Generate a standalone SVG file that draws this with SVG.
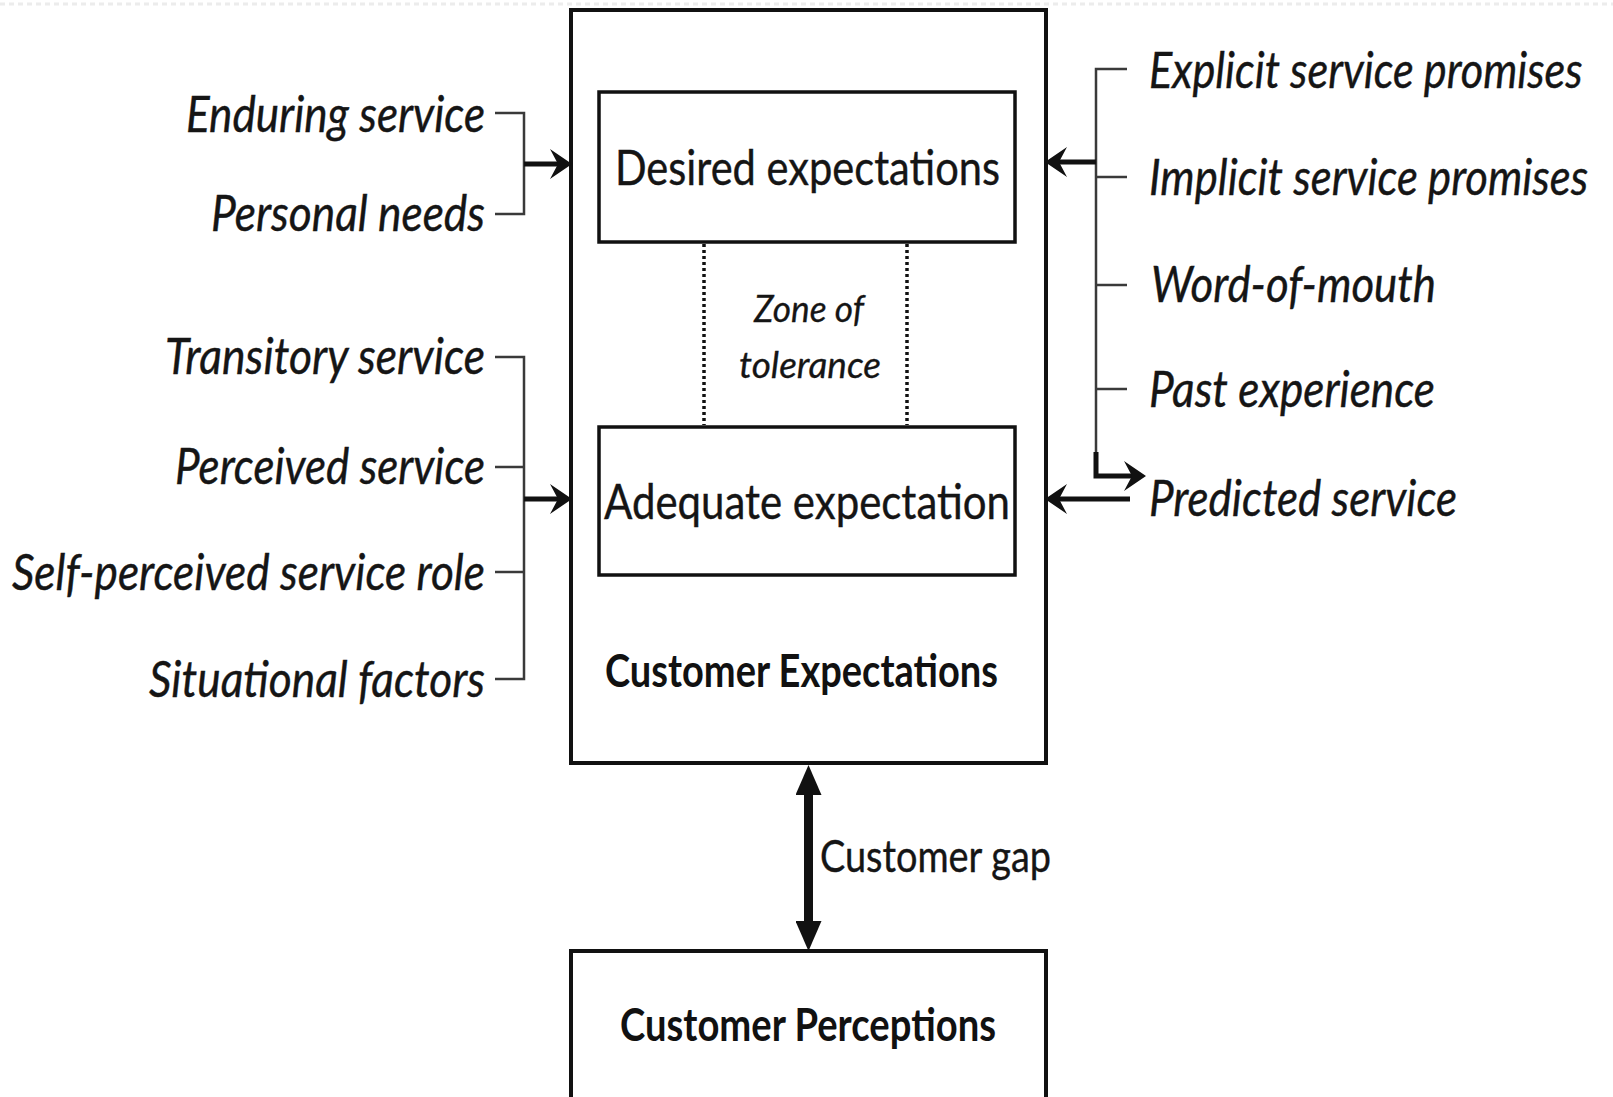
<svg xmlns="http://www.w3.org/2000/svg" width="1613" height="1097" viewBox="0 0 1613 1097">
<style>
  .box { fill: #fff; stroke: #111; stroke-width: 3.5; }
  .outer { fill: #fff; stroke: #111; stroke-width: 4; }
  .lbl { font-family: Lato, "Liberation Sans", sans-serif; font-style: italic; font-size: 50px; fill: #151515; stroke: #151515; stroke-width: 0.4; }
  .main { font-family: Lato, "Liberation Sans", sans-serif; font-size: 49px; fill: #151515; stroke: #151515; stroke-width: 0.4; }
  .zone { font-family: Lato, "Liberation Sans", sans-serif; font-style: italic; font-size: 37px; fill: #151515; stroke: #151515; stroke-width: 0.3; }
  .bold { font-family: Lato, "Liberation Sans", sans-serif; font-weight: bold; font-size: 46px; fill: #111; }
  .gap { font-family: Lato, "Liberation Sans", sans-serif; font-size: 45px; fill: #151515; stroke: #151515; stroke-width: 0.4; }
  .brk { fill: none; stroke: #3a3a3a; stroke-width: 2.5; }
  .arr { fill: none; stroke: #111; stroke-width: 5; }
  .dot { stroke: #111; stroke-width: 3.5; stroke-dasharray: 3 3; }
</style>
<defs>
  <marker id="barb" markerUnits="userSpaceOnUse" viewBox="0 0 22 30" markerWidth="22" markerHeight="30" refX="8" refY="15" orient="auto">
    <path d="M0,0 L22,15 L0,30 L8,15 Z" fill="#111"/>
  </marker>
  <marker id="tri" markerUnits="userSpaceOnUse" viewBox="0 0 30 26" markerWidth="30" markerHeight="26" refX="2" refY="13" orient="auto-start-reverse">
    <path d="M0,0 L30,13 L0,26 Z" fill="#111"/>
  </marker>
</defs>
<rect x="0" y="0" width="1613" height="1097" fill="#fff"/>
<line x1="0" y1="4" x2="1613" y2="4" stroke="#ececec" stroke-width="3" stroke-dasharray="5 4"/>

<g id="customer-expectations">
  <rect class="outer" x="571" y="10" width="475" height="753"/>
  <text class="bold" x="605" y="687" textLength="393" lengthAdjust="spacingAndGlyphs">Customer Expectations</text>
</g>
<g id="desired-expectations">
  <rect class="box" x="599" y="92" width="416" height="150"/>
  <text class="main" x="615" y="185" textLength="385" lengthAdjust="spacingAndGlyphs">Desired expectations</text>
</g>
<g id="zone-of-tolerance">
  <line class="dot" x1="704" y1="244" x2="704" y2="425"/>
  <line class="dot" x1="907" y1="244" x2="907" y2="425"/>
  <text class="zone" x="754" y="322" textLength="110" lengthAdjust="spacingAndGlyphs">Zone of</text>
  <text class="zone" x="739" y="378" textLength="142" lengthAdjust="spacingAndGlyphs">tolerance</text>
</g>
<g id="adequate-expectation">
  <rect class="box" x="599" y="427" width="416" height="148"/>
  <text class="main" x="604" y="519" textLength="406" lengthAdjust="spacingAndGlyphs">Adequate expectation</text>
</g>
<g id="customer-perceptions">
  <rect class="outer" x="571" y="951" width="475" height="200"/>
  <text class="bold" x="620" y="1041" textLength="376" lengthAdjust="spacingAndGlyphs">Customer Perceptions</text>
</g>

<g id="left-factors">
  <text class="lbl" x="186" y="132" textLength="299" lengthAdjust="spacingAndGlyphs">Enduring service</text>
  <text class="lbl" x="211" y="231" textLength="274" lengthAdjust="spacingAndGlyphs">Personal needs</text>
  <text class="lbl" x="165" y="374" textLength="320" lengthAdjust="spacingAndGlyphs">Transitory service</text>
  <text class="lbl" x="175" y="484" textLength="310" lengthAdjust="spacingAndGlyphs">Perceived service</text>
  <text class="lbl" x="12" y="590" textLength="473" lengthAdjust="spacingAndGlyphs">Self-perceived service role</text>
  <text class="lbl" x="149" y="697" textLength="336" lengthAdjust="spacingAndGlyphs">Situational factors</text>
</g>
<g id="right-factors">
  <text class="lbl" transform="translate(1149,88) scale(0.8,1)" x="0" y="0" textLength="542" lengthAdjust="spacingAndGlyphs">Explicit service promises</text>
  <text class="lbl" transform="translate(1149,195) scale(0.8,1)" x="0" y="0" textLength="549" lengthAdjust="spacingAndGlyphs">Implicit service promises</text>
  <text class="lbl" x="1151" y="302" textLength="285" lengthAdjust="spacingAndGlyphs">Word-of-mouth</text>
  <text class="lbl" x="1149" y="407" textLength="286" lengthAdjust="spacingAndGlyphs">Past experience</text>
  <text class="lbl" x="1149" y="516" textLength="308" lengthAdjust="spacingAndGlyphs">Predicted service</text>
</g>
<g id="customer-gap-label">
  <text class="gap" x="820" y="872" textLength="231" lengthAdjust="spacingAndGlyphs">Customer gap</text>
</g>

<g id="connectors">
  <path class="brk" d="M495,113 H524 V214 H495"/>
  <line class="arr" x1="524" y1="164" x2="558" y2="164" marker-end="url(#barb)"/>
  <path class="brk" d="M495,357 H524 V679 H495"/>
  <line class="brk" x1="495" y1="467" x2="524" y2="467"/>
  <line class="brk" x1="495" y1="572" x2="524" y2="572"/>
  <line class="arr" x1="524" y1="499" x2="558" y2="499" marker-end="url(#barb)"/>
  <path class="brk" d="M1127,69 H1096 V456"/>
  <line class="brk" x1="1096" y1="177" x2="1127" y2="177"/>
  <line class="brk" x1="1096" y1="285" x2="1127" y2="285"/>
  <line class="brk" x1="1096" y1="389" x2="1127" y2="389"/>
  <line class="arr" x1="1096" y1="162" x2="1059" y2="162" marker-end="url(#barb)"/>
  <path class="arr" d="M1096,452 V476 H1132" marker-end="url(#barb)"/>
  <line class="arr" x1="1130" y1="499" x2="1059" y2="499" marker-end="url(#barb)"/>
  <line x1="808.5" y1="793" x2="808.5" y2="923" stroke="#111" stroke-width="9" marker-start="url(#tri)" marker-end="url(#tri)"/>
</g>
</svg>
